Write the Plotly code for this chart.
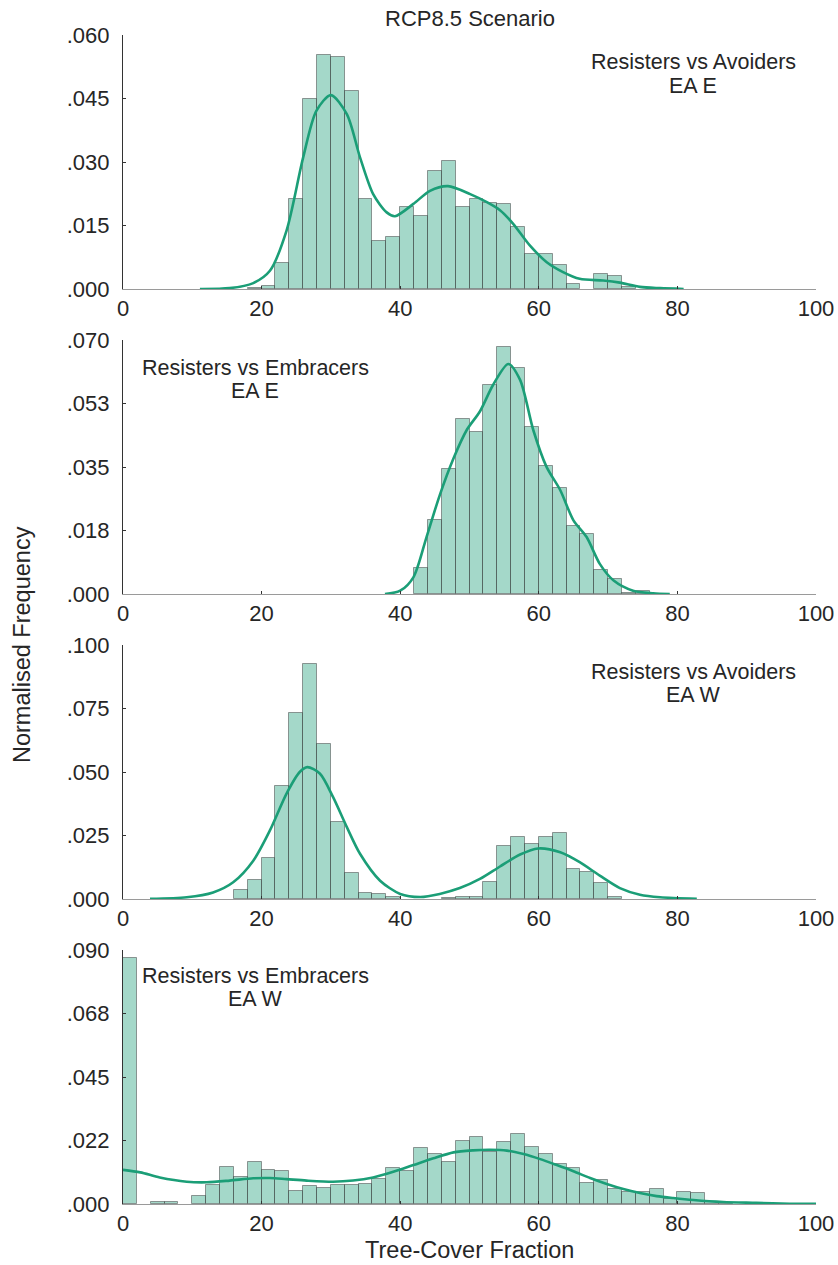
import plotly.graph_objects as go

# ---------------- data ----------------
bin_width = 2

p1_bin_left = [18, 20, 22, 24, 26, 28, 30, 32, 34, 36, 38, 40, 42, 44, 46, 48, 50, 52, 54, 56, 58, 60, 62, 64, 66, 68, 70, 72]
p1_freq = [0.0003, 0.0007, 0.0061, 0.0213, 0.0449, 0.0552, 0.0547, 0.0467, 0.0213, 0.0114, 0.0123, 0.0194, 0.0172, 0.0279,
           0.0302, 0.0194, 0.0213, 0.0204, 0.0200, 0.0146, 0.0083, 0.0083, 0.0057, 0.0013, 0.0, 0.0035, 0.0030, 0.0005]
p1_kde_x = [11.1, 15.4, 18.8, 21.2, 23.6, 26.0, 27.9, 30.0, 32.3, 34.2, 36.1, 38.05, 39.25, 41.9, 44.3, 46.9, 50.1, 52.5,
            54.4, 56.3, 58.7, 61.1, 63.5, 65.9, 69.3, 71.7, 74.6, 77.5, 80.9]
p1_kde_y = [0.0, 0.0002, 0.0014, 0.0043, 0.0138, 0.0311, 0.0421, 0.0458, 0.0413, 0.0311, 0.0224, 0.0181, 0.0172, 0.0201,
            0.0232, 0.0243, 0.0224, 0.0205, 0.0186, 0.0154, 0.0103, 0.0064, 0.0040, 0.0024, 0.0020, 0.0015, 0.0005, 0.0002, 0.0]

p2_bin_left = [42, 44, 46, 48, 50, 52, 54, 56, 58, 60, 62, 64, 66, 68, 70, 72, 74]
p2_freq = [0.0071, 0.0205, 0.0344, 0.0482, 0.0447, 0.0577, 0.0681, 0.0622, 0.0460, 0.0353, 0.0291, 0.0187, 0.0165,
           0.0067, 0.0040, 0.0004, 0.0008]
p2_kde_x = [37.8, 40.0, 41.9, 43.8, 45.7, 47.7, 49.6, 51.5, 53.4, 55.6, 57.3, 59.2, 61.1, 63.1, 65.0, 66.9, 68.8, 70.8,
            73.6, 76.5, 78.9]
p2_kde_y = [0.0, 0.0009, 0.0046, 0.0157, 0.0272, 0.0374, 0.0452, 0.0503, 0.0576, 0.0634, 0.0590, 0.0452, 0.0351, 0.0286,
            0.0203, 0.0157, 0.0083, 0.0037, 0.0009, 0.0002, 0.0]

p3_bin_left = [16, 18, 20, 22, 24, 26, 28, 30, 32, 34, 36, 38, 40, 42, 44, 46, 48, 50, 52, 54, 56, 58, 60, 62, 64, 66, 68, 70]
p3_freq = [0.0037, 0.0075, 0.0162, 0.0446, 0.0734, 0.0926, 0.0612, 0.0304, 0.0101, 0.0024, 0.0020, 0.0008, 0.0, 0.0, 0.0,
           0.0004, 0.0008, 0.0008, 0.0068, 0.0207, 0.0244, 0.0217, 0.0244, 0.0261, 0.0120, 0.0108, 0.0064, 0.0008]
p3_kde_x = [3.9, 9.2, 13.0, 15.9, 18.8, 21.2, 23.6, 25.5, 26.6, 28.4, 30.3, 32.3, 34.2, 37.1, 40.0, 42.9, 45.7, 48.6,
            51.5, 54.4, 57.3, 59.9, 63.1, 65.9, 68.8, 71.7, 74.6, 77.5, 82.8]
p3_kde_y = [0.0001, 0.0007, 0.0026, 0.0066, 0.0151, 0.0270, 0.0415, 0.0500, 0.0519, 0.0494, 0.0402, 0.0283, 0.0178,
            0.0072, 0.0020, 0.0008, 0.0020, 0.0043, 0.0079, 0.0128, 0.0175, 0.0199, 0.0184, 0.0145, 0.0092, 0.0043,
            0.0017, 0.0007, 0.0001]

p4_bin_left = [0, 2, 4, 6, 8, 10, 12, 14, 16, 18, 20, 22, 24, 26, 28, 30, 32, 34, 36, 38, 40, 42, 44, 46, 48, 50, 52, 54,
               56, 58, 60, 62, 64, 66, 68, 70, 72, 74, 76, 78, 80, 82, 84, 86]
p4_freq = [0.0870, 0.0, 0.0006, 0.0006, 0.0, 0.0030, 0.0067, 0.0132, 0.0097, 0.0150, 0.0122, 0.0117, 0.0047, 0.0063,
           0.0058, 0.0067, 0.0067, 0.0072, 0.0090, 0.0127, 0.0117, 0.0197, 0.0177, 0.0150, 0.0223, 0.0238, 0.0186,
           0.0219, 0.0248, 0.0201, 0.0177, 0.0142, 0.0126, 0.0075, 0.0085, 0.0053, 0.0042, 0.0042, 0.0052, 0.0019,
           0.0042, 0.0039, 0.0007, 0.0005]
p4_kde_x = [0.0, 2.5, 5.3, 9.2, 12.1, 15.4, 18.8, 21.2, 23.6, 26.5, 30.3, 33.2, 36.1, 39.0, 41.9, 44.8, 47.7, 50.5, 53.0,
            55.4, 57.8, 60.2, 62.6, 65.0, 67.4, 69.8, 72.2, 74.6, 77.0, 79.4, 82.3, 86.6, 91.4, 96.2, 100.0]
p4_kde_y = [0.0121, 0.0112, 0.0094, 0.0079, 0.0077, 0.0083, 0.0091, 0.0092, 0.0088, 0.0083, 0.0079, 0.0083, 0.0094,
            0.0114, 0.0138, 0.0162, 0.0183, 0.0190, 0.0192, 0.0189, 0.0177, 0.0159, 0.0138, 0.0116, 0.0092, 0.0071,
            0.0053, 0.0039, 0.0028, 0.0021, 0.0014, 0.0007, 0.0004, 0.0001, 0.0001]

y_max = [0.060, 0.070, 0.100, 0.090]
y_tickvals = [[0, 0.015, 0.030, 0.045, 0.060],
              [0, 0.0175, 0.035, 0.0525, 0.070],
              [0, 0.025, 0.050, 0.075, 0.100],
              [0, 0.0225, 0.045, 0.0675, 0.090]]
y_ticktext = [[".000", ".015", ".030", ".045", ".060"],
              [".000", ".018", ".035", ".053", ".070"],
              [".000", ".025", ".050", ".075", ".100"],
              [".000", ".022", ".045", ".068", ".090"]]
x_ticks = [0, 20, 40, 60, 80, 100]
panel_labels = [("Resisters vs Avoiders", "EA E"),
                ("Resisters vs Embracers", "EA E"),
                ("Resisters vs Avoiders", "EA W"),
                ("Resisters vs Embracers", "EA W")]

# ---------------- styling / layout ----------------
W, H = 838, 1265
ML, MR, MT, MB = 123, 22, 35, 60
PW = W - ML - MR
PH = H - MT - MB
panel_top = [35, 340, 645, 950]
panel_h = 254
label_pos = [(693, 62, 86), (255, 368, 391), (693, 672, 695), (255, 976, 999)]

FONT = "Liberation Sans, Arial, Helvetica, sans-serif"
TXT = "#262626"
BAR_FILL = "rgba(27,158,119,0.4)"
BAR_EDGE = "rgba(60,60,60,0.5)"
LINE = "#1b9e77"
TICK_SIZE = 22
LABEL_SIZE = 21.5
TITLE_SIZE = 22
AXTITLE_SIZE = 23.5


def px_x(p):
    return (p - ML) / PW


def px_y(p):
    return (H - MB - p) / PH


fig = go.Figure()
panels = [(p1_bin_left, p1_freq, p1_kde_x, p1_kde_y),
          (p2_bin_left, p2_freq, p2_kde_x, p2_kde_y),
          (p3_bin_left, p3_freq, p3_kde_x, p3_kde_y),
          (p4_bin_left, p4_freq, p4_kde_x, p4_kde_y)]

annotations = []
for i, (bl, fr, kx, ky) in enumerate(panels):
    n = i + 1
    xa = "x" if n == 1 else f"x{n}"
    ya = "y" if n == 1 else f"y{n}"
    centers = [b + bin_width / 2 for b in bl]
    heights = [f if f > 0 else None for f in fr]
    fig.add_trace(go.Bar(x=centers, y=heights, width=[bin_width] * len(bl),
                         marker=dict(color=BAR_FILL, line=dict(color=BAR_EDGE, width=1)),
                         xaxis=xa, yaxis=ya, showlegend=False))
    fig.add_trace(go.Scatter(x=kx, y=ky, mode="lines",
                             line=dict(color=LINE, width=2.6, shape="spline", smoothing=0.8),
                             xaxis=xa, yaxis=ya, showlegend=False))
    top = panel_top[i]
    bot = top + panel_h
    dom = [px_y(bot), px_y(top)]
    ax_x = dict(domain=[0, 1], range=[0, 100], tickvals=x_ticks, showline=True, linecolor="#9a9a9a",
                linewidth=1, ticks="inside", ticklen=3, tickcolor="#333", showgrid=False, zeroline=False,
                anchor=ya, automargin=False, tickfont=dict(size=TICK_SIZE, color=TXT, family=FONT),
                fixedrange=True)
    ax_y = dict(domain=dom, range=[0, y_max[i]], tickvals=y_tickvals[i], ticktext=y_ticktext[i],
                showline=True, linecolor="#333", linewidth=1.2, ticks="inside", ticklen=3, tickcolor="#333",
                showgrid=False, zeroline=False, anchor=xa, ticklabelstandoff=8, automargin=False,
                tickfont=dict(size=TICK_SIZE, color=TXT, family=FONT), fixedrange=True)
    fig.update_layout(**{("xaxis" if n == 1 else f"xaxis{n}"): ax_x,
                         ("yaxis" if n == 1 else f"yaxis{n}"): ax_y})
    lx, ly1, ly2 = label_pos[i]
    for txt, yy in ((panel_labels[i][0], ly1), (panel_labels[i][1], ly2)):
        annotations.append(dict(text=txt, x=px_x(lx), y=px_y(yy), xref="paper", yref="paper",
                                xanchor="center", yanchor="middle", showarrow=False,
                                font=dict(size=LABEL_SIZE, color=TXT, family=FONT)))

annotations.append(dict(text="RCP8.5 Scenario", x=0.5, y=px_y(18), xref="paper", yref="paper",
                        xanchor="center", yanchor="middle", showarrow=False,
                        font=dict(size=TITLE_SIZE, color=TXT, family=FONT)))
annotations.append(dict(text="Normalised Frequency", x=px_x(22), y=px_y(645), xref="paper", yref="paper",
                        xanchor="center", yanchor="middle", showarrow=False, textangle=-90,
                        font=dict(size=AXTITLE_SIZE, color=TXT, family=FONT)))
annotations.append(dict(text="Tree-Cover Fraction", x=0.5, y=px_y(1250), xref="paper", yref="paper",
                        xanchor="center", yanchor="middle", showarrow=False,
                        font=dict(size=AXTITLE_SIZE, color=TXT, family=FONT)))

fig.update_layout(width=W, height=H, autosize=False,
                  margin=dict(l=ML, r=MR, t=MT, b=MB, autoexpand=False),
                  paper_bgcolor="white", plot_bgcolor="white",
                  bargap=0, barmode="overlay",
                  annotations=annotations,
                  font=dict(family=FONT, color=TXT))

fig.write_html("out.html")
